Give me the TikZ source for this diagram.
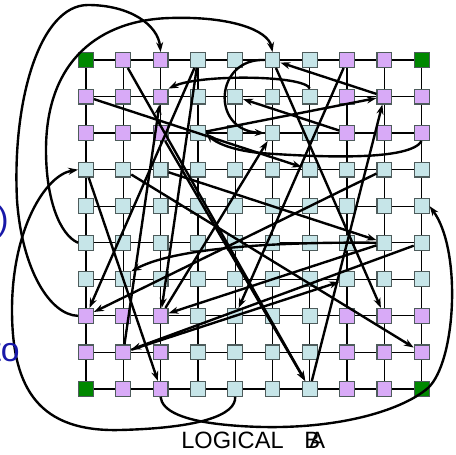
\documentclass[tikz,border=0pt]{standalone}
\usepackage{fontspec}
\setmainfont{Liberation Sans}
\usetikzlibrary{arrows.meta}
\definecolor{cellcyan}{HTML}{C6E5E8}
\definecolor{cellpurple}{HTML}{D8AAF7}
\definecolor{cellgreen}{HTML}{008800}
\definecolor{cellrim}{HTML}{4E5C5C}
\definecolor{slideblue}{HTML}{1818A8}

\begin{document}
\begin{tikzpicture}[x=0.025cm, y=-0.025cm,
    cell/.style={draw=cellrim, line width=0.8pt, minimum size=0.37cm, inner sep=0pt, fill=#1},
    link/.style={line width=0.9pt},
    hop/.style={line width=1.7pt, -{Stealth[length=7pt,width=5pt]}},
    caption/.style={inner sep=0pt, font=\fontsize{16.8}{20}\selectfont},
    sidenote/.style={inner sep=0pt, text=slideblue, font=\fontsize{24}{28}\selectfont}]
    \useasboundingbox (0,0) rectangle (456,455);
    % 10x10 array of cells, corners green, corner blocks purple
    \foreach \r in {0,...,9} {
        \foreach \c in {0,...,9} {
            \pgfmathtruncatemacro{\ispurple}{and(or(\r<3,\r>6),or(\c<3,\c>6))}
            \pgfmathtruncatemacro{\iscorner}{and(or(\r==0,\r==9),or(\c==0,\c==9))}
            \ifnum\iscorner=1 \def\cellfill{cellgreen}\else
                \ifnum\ispurple=1 \def\cellfill{cellpurple}\else\def\cellfill{cellcyan}\fi\fi
            \node[cell=\cellfill] (n\r\c) at (86+37.3*\c, 60+36.55*\r) {};
        }
    }
    % mesh links
    \foreach \r in {0,...,9}
        \foreach \c [count=\d from 1] in {0,...,8}
            \draw[link] (n\r\c) -- (n\r\d);
    \foreach \c in {0,...,9}
        \foreach \r [count=\s from 1] in {0,...,8}
            \draw[link] (n\r\c) -- (n\s\c);
    % long hops, straight
    \draw[hop] (n18) -- (n05);
    \draw[hop] (n23) -- (n18);
    \draw[hop] (n27) -- (n14);
    \draw[hop] (n07) -- (n74);
    \draw[hop] (n05) -- (n78);
    \draw[hop] (n10) -- (n36);
    \draw[hop] (n01) -- (n96);
    \draw[hop] (n22) -- (n96);
    \draw[hop] (n81) -- (n12);
    \draw[hop] (n81) -- (n67);
    \draw[hop] (n38) -- (n70);
    \draw[hop] (n03) -- (n70);
    \draw[hop] (n03) -- (n72);
    \draw[hop] (n30) -- (n92);
    \draw[hop] (n96) -- (n18);
    \draw[hop] (n72) -- (n25);
    \draw[hop] (n32) -- (n58);
    \draw[hop] (n31) -- (n89);
    \draw[hop] (n59) -- (n81);
    \draw[hop] (n58) -- (n72);
    % long hops, bent
    \draw[hop] (n70.west) .. controls (50,315) and (22,270) .. (17,200)
        .. controls (12,100) and (40,5) .. (88,5)
        .. controls (130,5) and (158,25) .. (n02.north);
    \draw[hop] (n50.west) .. controls (60,235) and (46,200) .. (46,150)
        .. controls (46,60) and (100,20) .. (170,18)
        .. controls (230,16) and (268,30) .. (n05.north);
    \draw[hop] (n94.south) .. controls (236,415) and (200,428) .. (120,430)
        .. controls (40,432) and (12,390) .. (12,310)
        .. controls (12,230) and (45,175) .. (n30.west);
    \draw[hop] (n92.south) .. controls (162,410) and (180,422) .. (240,426)
        .. controls (330,432) and (400,412) .. (428,388)
        .. controls (456,362) and (462,250) .. (n49.east);
    \draw[hop] (n05.west) .. controls (215,58) and (210,130) .. (n25.west);
    \draw[hop] (n16.north) .. controls (305,75) and (200,74) .. (n12.north east);
    \draw[hop] (n29.south) .. controls (410,160) and (330,158) .. (260,153)
        .. controls (230,150) and (215,142) .. (n23.east);
    \draw[hop] (n58.west) .. controls (300,242) and (180,245) .. (n61.north east);
    % captions
    \node[caption, anchor=base west] (logical) at (181,448) {LOGICAL};
    \node[caption, anchor=base west] (capb) at (304,448) {B};
    \node[caption, anchor=base west] (capa) at (309,448) {A};
    \node[sidenote, anchor=base east] (paren) at (9,230) {)};
    \node[sidenote, anchor=base east] (onto) at (20,361) {to};
\end{tikzpicture}
\end{document}
